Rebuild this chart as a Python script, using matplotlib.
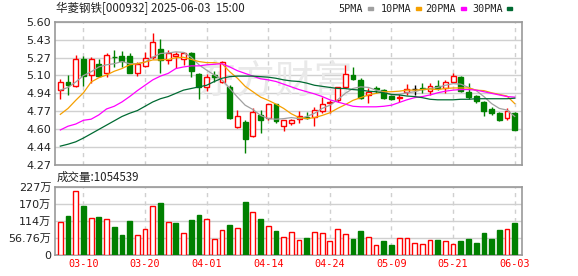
import matplotlib
matplotlib.use("Agg")
import matplotlib.pyplot as plt
from matplotlib.patches import Rectangle
import numpy as np

# daily prices, 2025-03-05 .. 2025-06-03 (60 trading days)
opens = [4.965, 5.040, 5.002, 5.250, 5.105, 5.204, 5.120, 5.276, 5.281, 5.281,
         5.126, 5.191, 5.269, 5.346, 5.244, 5.281, 5.250, 5.312, 5.114, 4.996,
         5.101, 5.043, 4.996, 4.619, 4.665, 4.538, 4.733, 4.702, 4.835, 4.635,
         4.656, 4.696, 4.715, 4.711, 4.770, 4.842, 4.870, 4.996, 5.105, 5.058,
         4.919, 4.981, 4.965, 4.909, 4.894, 4.950, 4.975, 4.984, 4.959, 5.003,
         4.981, 5.043, 5.083, 4.950, 4.909, 4.857, 4.786, 4.755, 4.702, 4.755]
closes = [5.037, 5.015, 5.250, 5.095, 5.253, 5.098, 5.290, 5.268, 5.235, 5.126,
          5.204, 5.259, 5.408, 5.244, 5.312, 5.300, 5.306, 5.145, 4.990, 5.083,
          5.086, 5.225, 4.702, 4.727, 4.507, 4.764, 4.687, 4.835, 4.680, 4.685,
          4.687, 4.727, 4.708, 4.780, 4.840, 4.857, 4.990, 5.111, 5.070, 4.888,
          4.943, 4.972, 4.894, 4.882, 4.905, 4.975, 4.975, 4.978, 5.003, 4.981,
          5.043, 5.095, 4.956, 4.897, 4.863, 4.770, 4.749, 4.687, 4.770, 4.594]
highs = [5.067, 5.105, 5.290, 5.281, 5.269, 5.253, 5.312, 5.337, 5.327, 5.312,
         5.228, 5.315, 5.492, 5.439, 5.337, 5.321, 5.315, 5.321, 5.126, 5.114,
         5.145, 5.235, 5.012, 4.780, 4.687, 4.795, 4.780, 4.840, 4.840, 4.687,
         4.700, 4.770, 4.758, 4.811, 4.903, 4.872, 4.996, 5.197, 5.182, 5.073,
         4.981, 5.003, 4.972, 4.919, 4.925, 5.018, 5.012, 5.027, 5.027, 5.058,
         5.058, 5.120, 5.095, 5.027, 4.919, 4.863, 4.804, 4.764, 4.795, 4.764]
lows = [4.882, 4.919, 4.990, 5.002, 5.027, 5.083, 5.089, 5.182, 5.182, 5.120,
        5.098, 5.176, 5.250, 5.126, 5.207, 5.173, 5.197, 5.089, 4.878, 4.959,
        5.043, 5.033, 4.696, 4.610, 4.383, 4.532, 4.563, 4.690, 4.656, 4.588,
        4.640, 4.656, 4.696, 4.631, 4.755, 4.749, 4.851, 4.981, 5.058, 4.878,
        4.841, 4.934, 4.882, 4.872, 4.857, 4.919, 4.919, 4.941, 4.919, 4.965,
        4.934, 5.033, 4.950, 4.882, 4.848, 4.724, 4.733, 4.680, 4.687, 4.594]

# volume in 万 shares
volumes = [109, 130, 214, 164, 122, 127, 119, 93, 67, 113,
           66, 86, 162, 174, 109, 107, 72, 117, 134, 119,
           53, 83, 100, 89, 177, 142, 120, 96, 80, 59,
           75, 50, 56, 76, 72, 47, 86, 69, 53, 80,
           59, 32, 47, 33, 56, 56, 39, 36, 50, 50,
           47, 37, 47, 53, 40, 73, 53, 83, 87, 105.4539]

ma5 = [4.965, 4.99, 5.04, 5.10, 5.135, 5.18, 5.20, 5.21, 5.23, 5.21,
       5.21, 5.225, 5.27, 5.305, 5.31, 5.32, 5.315, 5.27, 5.20, 5.15,
       5.105, 5.06, 4.98, 4.90, 4.825, 4.785, 4.73, 4.70, 4.695, 4.70,
       4.71, 4.70, 4.72, 4.75, 4.795, 4.825, 4.875, 4.935, 4.98, 4.995,
       4.99, 4.965, 4.95, 4.92, 4.925, 4.94, 4.95, 4.97, 4.98, 4.99,
       5.01, 5.025, 5.02, 4.99, 4.96, 4.905, 4.84, 4.795, 4.78, 4.72]
ma10 = [4.74, 4.795, 4.87, 4.94, 5.04, 5.08, 5.105, 5.14, 5.165, 5.20,
        5.21, 5.225, 5.245, 5.245, 5.25, 5.265, 5.27, 5.25, 5.23, 5.22,
        5.22, 5.21, 5.135, 5.075, 5.00, 4.95, 4.90, 4.87, 4.835, 4.795,
        4.745, 4.71, 4.70, 4.71, 4.73, 4.755, 4.795, 4.83, 4.87, 4.895,
        4.92, 4.935, 4.95, 4.95, 4.955, 4.965, 4.965, 4.97, 4.975, 4.97,
        4.98, 4.985, 4.985, 4.985, 4.965, 4.96, 4.94, 4.925, 4.91, 4.84]
ma20 = [4.595, 4.63, 4.65, 4.685, 4.695, 4.735, 4.79, 4.815, 4.855, 4.905,
        4.96, 5.01, 5.06, 5.095, 5.12, 5.165, 5.18, 5.19, 5.19, 5.20,
        5.205, 5.21, 5.18, 5.145, 5.12, 5.095, 5.07, 5.06, 5.045, 5.02,
        4.995, 4.97, 4.95, 4.93, 4.905, 4.875, 4.855, 4.835, 4.815, 4.81,
        4.81, 4.81, 4.815, 4.825, 4.85, 4.875, 4.895, 4.905, 4.92, 4.94,
        4.955, 4.965, 4.97, 4.97, 4.965, 4.95, 4.935, 4.92, 4.905, 4.90]
ma30 = [4.445, 4.463, 4.485, 4.52, 4.56, 4.60, 4.64, 4.68, 4.72, 4.75,
        4.775, 4.815, 4.855, 4.885, 4.905, 4.935, 4.965, 4.98, 4.995, 5.01,
        5.045, 5.075, 5.09, 5.095, 5.095, 5.095, 5.09, 5.085, 5.075, 5.06,
        5.05, 5.045, 5.03, 5.01, 5.00, 4.99, 4.98, 4.98, 4.97, 4.965,
        4.955, 4.95, 4.94, 4.925, 4.92, 4.91, 4.905, 4.895, 4.88, 4.875,
        4.875, 4.875, 4.88, 4.88, 4.885, 4.885, 4.885, 4.885, 4.885, 4.89]

date_idx = [3, 11, 19, 27, 35, 43, 51, 59]
date_labels = ["03-10", "03-20", "04-01", "04-14", "04-24", "05-09", "05-21", "06-03"]
price_ticks = np.linspace(4.27, 5.60, 9)
price_labels = ["4.27", "4.44", "4.60", "4.77", "4.94", "5.10", "5.27", "5.43", "5.60"]
vol_ticks = [0, 56.76, 113.52, 170.28, 227.04]
vol_labels = ["0", "56.76万", "114万", "170万", "227万"]

RED = "#ff0000"
GREEN = "#008000"
GRID = "#d0d0d0"
FRAME = "#999999"
CJK = ["Noto Sans CJK SC", "DejaVu Sans"]


def style_axes(ax):
    for s in ax.spines.values():
        s.set_color(FRAME)
        s.set_linewidth(1.2)
    ax.tick_params(length=0, labelsize=8, colors="#222222", pad=3)
    for i in date_idx:
        ax.axvline(i, color=GRID, lw=1, ls=(0, (3, 3)), zorder=0)
    ax.set_xlim(-0.65, 59.99)


def draw_candles(ax, w=0.64):
    for i in range(len(opens)):
        o, c, h, l = opens[i], closes[i], highs[i], lows[i]
        if c > o:
            col, face = RED, "white"
        elif c < o:
            col, face = GREEN, GREEN
        else:
            col, face = "black", "black"
        ax.vlines(i, l, h, color=col, lw=1, zorder=3)
        if c != o:
            ax.add_patch(Rectangle((i - w / 2, min(o, c)), w, abs(c - o),
                                   facecolor=face, edgecolor=col, lw=1, zorder=4))
        else:
            ax.hlines(c, i - w / 2, i + w / 2, color=col, lw=1, zorder=4)


fig = plt.figure(figsize=(5.78, 2.76), dpi=100)
ax = fig.add_axes([0.0957, 0.4022, 0.808, 0.5192])
axv = fig.add_axes([0.0957, 0.0761, 0.808, 0.2475])

# price panel
style_axes(ax)
ax.set_ylim(4.27, 5.60)
ax.set_yticks(price_ticks)
ax.set_yticklabels(price_labels)
ax.set_xticks([])
for t in price_ticks:
    ax.axhline(t, color=GRID, lw=1, zorder=0)
ax.text(0.47, 0.58, "东方财富", transform=ax.transAxes, fontsize=28,
        family=CJK, color="#e9e9e9", ha="center", va="center", zorder=0)

x = np.arange(len(opens))
ax.plot(x, ma5, color="#a0a0a0", lw=0.9, zorder=5)
ax.plot(x, ma10, color="#f5a000", lw=0.9, zorder=5)
ax.plot(x, ma20, color="#ff00ff", lw=0.9, zorder=5)
ax.plot(x, ma30, color="#006a32", lw=0.9, zorder=5)
draw_candles(ax)

# volume panel
style_axes(axv)
axv.set_ylim(0, 227.04)
axv.set_yticks(vol_ticks)
axv.set_yticklabels(vol_labels, family=["DejaVu Sans", "Noto Sans CJK SC"])
for t in vol_ticks:
    axv.axhline(t, color=GRID, lw=1, zorder=0)
vol_up = [closes[0] >= opens[0]] + [closes[i] >= closes[i - 1] for i in range(1, len(closes))]
axv.bar(x, volumes, width=0.62,
        color=["white" if u else GREEN for u in vol_up],
        edgecolor=[RED if u else GREEN for u in vol_up], lw=1, zorder=3)
axv.set_xticks(date_idx)
axv.set_xticklabels(date_labels, family="DejaVu Sans Mono", fontsize=7.3, color=RED)

# header texts
H = 276.0
W = 578.0
fig.text(56 / W, 1 - 8.5 / H, "华菱钢铁[000932] 2025-06-03  15:00", family=CJK,
         fontsize=8.3, color="#222222", va="center")
fig.text(57 / W, 1 - 177.5 / H, "成交量:1054539", family=CJK,
         fontsize=8.3, color="#222222", va="center")

legend = [("5PMA", 338, 368, "#a0a0a0"), ("10PMA", 380.5, 415.5, "#f5a000"),
          ("20PMA", 425.5, 461, "#ff00ff"), ("30PMA", 472, 507, "#006a32")]
for name, tx, mx, col in legend:
    fig.text(tx / W, 1 - 8.5 / H, name, family="DejaVu Sans Mono", fontsize=7.3,
             color="#222222", va="center")
    fig.patches.append(Rectangle((mx / W, 1 - 10 / H), 5 / W, 2.5 / H,
                                 transform=fig.transFigure, color=col, figure=fig))

fig.savefig("out.png", dpi=100)
